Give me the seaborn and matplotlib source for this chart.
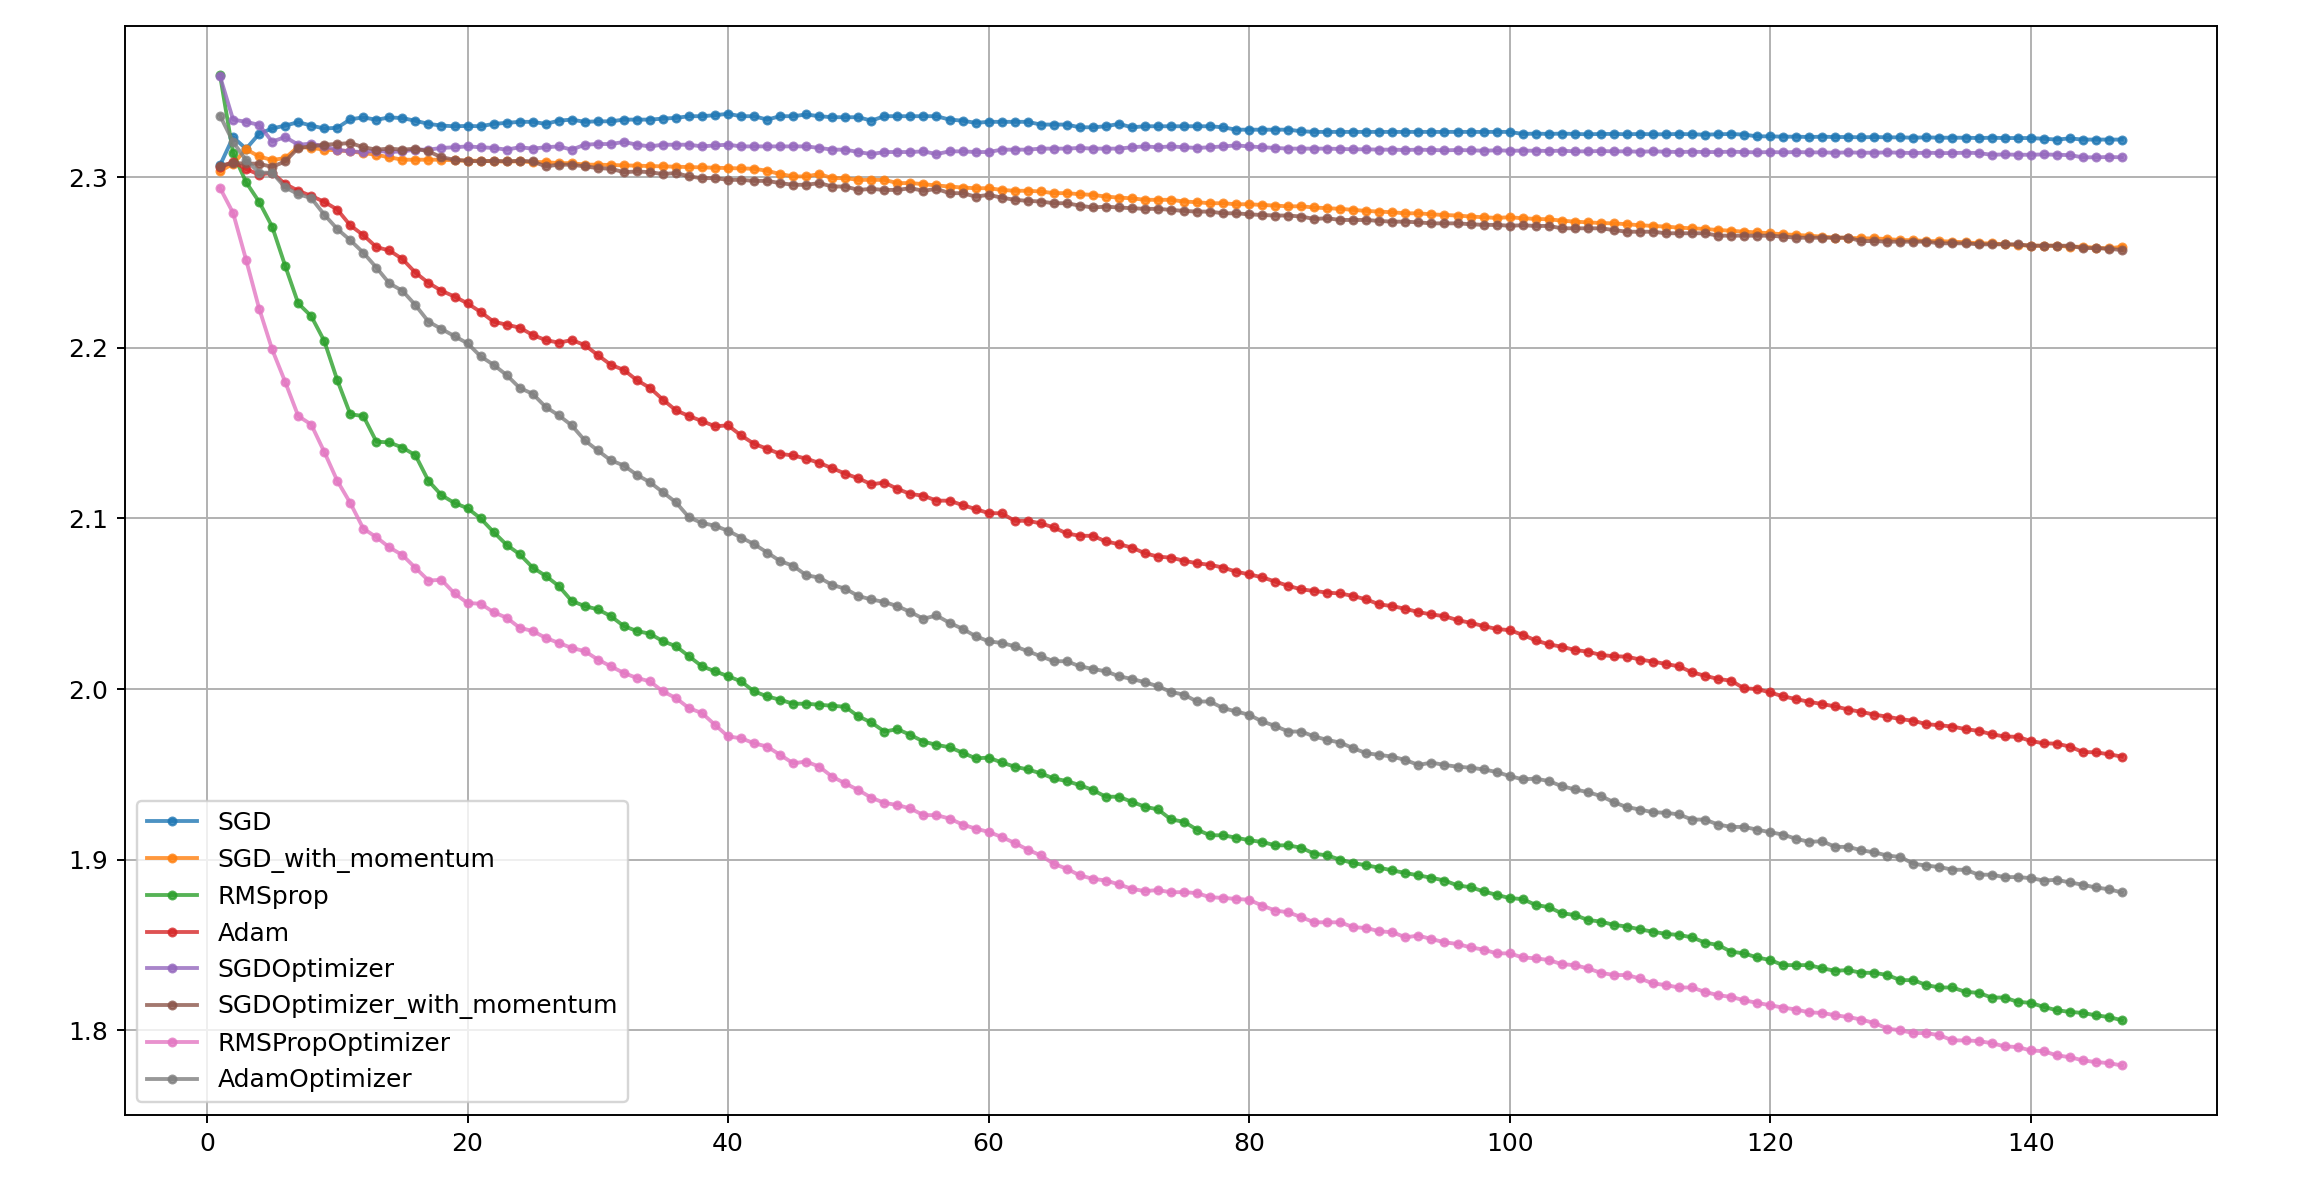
import matplotlib
matplotlib.use("Agg")
import matplotlib.pyplot as plt
import seaborn as sns
import pandas as pd

epochs = list(range(1, 148))

sgd = [2.3070, 2.3234, 2.3166, 2.3254, 2.3285, 2.3302, 2.3322, 2.3302, 2.3285, 2.3289,
       2.3339, 2.3350, 2.3336, 2.3350, 2.3346, 2.3330, 2.3312, 2.3302, 2.3298, 2.3300,
       2.3298, 2.3312, 2.3318, 2.3324, 2.3324, 2.3312, 2.3331, 2.3337, 2.3324, 2.3327,
       2.3327, 2.3337, 2.3337, 2.3337, 2.3343, 2.3347, 2.3357, 2.3357, 2.3363, 2.3371,
       2.3357, 2.3357, 2.3337, 2.3357, 2.3357, 2.3367, 2.3357, 2.3351, 2.3351, 2.3351,
       2.3331, 2.3357, 2.3357, 2.3357, 2.3357, 2.3357, 2.3337, 2.3331, 2.3318, 2.3324,
       2.3324, 2.3324, 2.3324, 2.3308, 2.3308, 2.3308, 2.3292, 2.3292, 2.3298, 2.3312,
       2.3292, 2.3298, 2.3298, 2.3298, 2.3298, 2.3298, 2.3298, 2.3292, 2.3278, 2.3278,
       2.3278, 2.3278, 2.3278, 2.3269, 2.3265, 2.3265, 2.3265, 2.3265, 2.3265, 2.3265,
       2.3265, 2.3265, 2.3265, 2.3265, 2.3265, 2.3265, 2.3265, 2.3265, 2.3265, 2.3265,
       2.3253, 2.3255, 2.3253, 2.3255, 2.3253, 2.3251, 2.3253, 2.3253, 2.3251, 2.3253,
       2.3251, 2.3251, 2.3253, 2.3251, 2.3249, 2.3251, 2.3253, 2.3249, 2.3239, 2.3239,
       2.3237, 2.3237, 2.3235, 2.3237, 2.3235, 2.3235, 2.3233, 2.3235, 2.3233, 2.3233,
       2.3231, 2.3233, 2.3231, 2.3231, 2.3231, 2.3229, 2.3231, 2.3229, 2.3229, 2.3229,
       2.3225, 2.3220, 2.3227, 2.3220, 2.3220, 2.3220, 2.3220]

sgd_momentum = [2.3035, 2.3078, 2.3163, 2.3121, 2.3100, 2.3112, 2.3178, 2.3171, 2.3161, 2.3157,
                2.3151, 2.3141, 2.3131, 2.3116, 2.3102, 2.3102, 2.3102, 2.3102, 2.3098, 2.3096,
                2.3096, 2.3092, 2.3092, 2.3092, 2.3088, 2.3088, 2.3082, 2.3082, 2.3073, 2.3073,
                2.3071, 2.3069, 2.3067, 2.3065, 2.3063, 2.3061, 2.3059, 2.3057, 2.3055, 2.3053,
                2.3051, 2.3049, 2.3037, 2.3018, 2.3004, 2.3004, 2.3018, 2.2994, 2.2994, 2.2984,
                2.2984, 2.2984, 2.2965, 2.2965, 2.2959, 2.2951, 2.2945, 2.2939, 2.2935, 2.2935,
                2.2925, 2.2920, 2.2920, 2.2916, 2.2906, 2.2906, 2.2900, 2.2896, 2.2886, 2.2880,
                2.2876, 2.2867, 2.2867, 2.2867, 2.2857, 2.2853, 2.2847, 2.2847, 2.2841, 2.2841,
                2.2837, 2.2833, 2.2829, 2.2829, 2.2822, 2.2818, 2.2814, 2.2808, 2.2802, 2.2798,
                2.2794, 2.2788, 2.2788, 2.2782, 2.2778, 2.2775, 2.2769, 2.2765, 2.2761, 2.2765,
                2.2759, 2.2755, 2.2753, 2.2745, 2.2739, 2.2735, 2.2731, 2.2729, 2.2724, 2.2718,
                2.2714, 2.2710, 2.2704, 2.2700, 2.2696, 2.2690, 2.2686, 2.2680, 2.2676, 2.2671,
                2.2665, 2.2661, 2.2657, 2.2651, 2.2645, 2.2645, 2.2641, 2.2641, 2.2637, 2.2631,
                2.2631, 2.2625, 2.2625, 2.2622, 2.2618, 2.2612, 2.2612, 2.2606, 2.2602, 2.2598,
                2.2598, 2.2598, 2.2592, 2.2592, 2.2586, 2.2582, 2.2592]

rmsprop = [2.3596, 2.3140, 2.2970, 2.2855, 2.2710, 2.2480, 2.2260, 2.2185, 2.2040, 2.1810,
           2.1610, 2.1600, 2.1450, 2.1445, 2.1415, 2.1370, 2.1220, 2.1136, 2.1090, 2.1060,
           2.1000, 2.0920, 2.0845, 2.0790, 2.0712, 2.0663, 2.0604, 2.0516, 2.0486, 2.0467,
           2.0427, 2.0369, 2.0340, 2.0324, 2.0280, 2.0251, 2.0192, 2.0133, 2.0104, 2.0075,
           2.0045, 1.9986, 1.9957, 1.9937, 1.9914, 1.9914, 1.9908, 1.9902, 1.9896, 1.9840,
           1.9804, 1.9751, 1.9765, 1.9731, 1.9692, 1.9673, 1.9659, 1.9627, 1.9594, 1.9598,
           1.9570, 1.9545, 1.9529, 1.9506, 1.9476, 1.9461, 1.9437, 1.9408, 1.9369, 1.9369,
           1.9339, 1.9310, 1.9295, 1.9236, 1.9222, 1.9176, 1.9143, 1.9143, 1.9129, 1.9114,
           1.9104, 1.9084, 1.9084, 1.9070, 1.9035, 1.9025, 1.9000, 1.8980, 1.8967, 1.8953,
           1.8937, 1.8922, 1.8908, 1.8894, 1.8878, 1.8849, 1.8839, 1.8814, 1.8794, 1.8775,
           1.8769, 1.8735, 1.8722, 1.8686, 1.8676, 1.8647, 1.8637, 1.8618, 1.8608, 1.8592,
           1.8578, 1.8565, 1.8559, 1.8545, 1.8514, 1.8500, 1.8461, 1.8451, 1.8427, 1.8412,
           1.8382, 1.8382, 1.8382, 1.8363, 1.8349, 1.8353, 1.8337, 1.8337, 1.8324, 1.8294,
           1.8294, 1.8265, 1.8251, 1.8251, 1.8225, 1.8220, 1.8192, 1.8192, 1.8167, 1.8161,
           1.8137, 1.8118, 1.8108, 1.8102, 1.8088, 1.8078, 1.8059]

adam = [2.3057, 2.3090, 2.3047, 2.3015, 2.3025, 2.2960, 2.2920, 2.2890, 2.2855, 2.2810,
        2.2717, 2.2660, 2.2590, 2.2570, 2.2520, 2.2440, 2.2380, 2.2334, 2.2300, 2.2260,
        2.2210, 2.2153, 2.2135, 2.2118, 2.2075, 2.2045, 2.2030, 2.2045, 2.2016, 2.1957,
        2.1900, 2.1870, 2.1810, 2.1765, 2.1696, 2.1633, 2.1600, 2.1570, 2.1540, 2.1545,
        2.1486, 2.1437, 2.1408, 2.1378, 2.1369, 2.1350, 2.1325, 2.1294, 2.1262, 2.1235,
        2.1200, 2.1210, 2.1173, 2.1143, 2.1133, 2.1104, 2.1104, 2.1078, 2.1055, 2.1031,
        2.1030, 2.0986, 2.0986, 2.0971, 2.0947, 2.0912, 2.0898, 2.0898, 2.0865, 2.0849,
        2.0829, 2.0796, 2.0776, 2.0770, 2.0752, 2.0737, 2.0728, 2.0712, 2.0688, 2.0672,
        2.0655, 2.0630, 2.0605, 2.0584, 2.0575, 2.0565, 2.0560, 2.0545, 2.0525, 2.0496,
        2.0486, 2.0470, 2.0451, 2.0437, 2.0427, 2.0404, 2.0388, 2.0369, 2.0352, 2.0345,
        2.0318, 2.0285, 2.0262, 2.0248, 2.0229, 2.0219, 2.0200, 2.0192, 2.0190, 2.0173,
        2.0161, 2.0147, 2.0133, 2.0098, 2.0078, 2.0059, 2.0049, 2.0004, 2.0000, 1.9980,
        1.9957, 1.9941, 1.9925, 1.9912, 1.9898, 1.9880, 1.9866, 1.9850, 1.9838, 1.9824,
        1.9814, 1.9794, 1.9788, 1.9780, 1.9765, 1.9755, 1.9735, 1.9722, 1.9720, 1.9696,
        1.9682, 1.9680, 1.9663, 1.9631, 1.9629, 1.9618, 1.9604]

sgd_optimizer = [2.3590, 2.3337, 2.3324, 2.3306, 2.3208, 2.3235, 2.3190, 2.3196, 2.3180, 2.3160,
                 2.3151, 2.3147, 2.3155, 2.3147, 2.3151, 2.3161, 2.3161, 2.3171, 2.3175, 2.3180,
                 2.3175, 2.3171, 2.3161, 2.3175, 2.3167, 2.3175, 2.3180, 2.3161, 2.3190, 2.3194,
                 2.3194, 2.3206, 2.3190, 2.3180, 2.3190, 2.3190, 2.3190, 2.3180, 2.3186, 2.3190,
                 2.3180, 2.3180, 2.3180, 2.3180, 2.3180, 2.3180, 2.3171, 2.3161, 2.3161, 2.3147,
                 2.3135, 2.3147, 2.3147, 2.3147, 2.3151, 2.3135, 2.3151, 2.3151, 2.3147, 2.3147,
                 2.3161, 2.3161, 2.3161, 2.3167, 2.3167, 2.3167, 2.3171, 2.3167, 2.3167, 2.3167,
                 2.3175, 2.3180, 2.3175, 2.3180, 2.3175, 2.3171, 2.3175, 2.3180, 2.3186, 2.3180,
                 2.3175, 2.3171, 2.3167, 2.3167, 2.3167, 2.3167, 2.3165, 2.3163, 2.3163, 2.3161,
                 2.3161, 2.3159, 2.3161, 2.3159, 2.3157, 2.3159, 2.3157, 2.3155, 2.3157, 2.3155,
                 2.3155, 2.3155, 2.3153, 2.3155, 2.3151, 2.3151, 2.3153, 2.3151, 2.3151, 2.3149,
                 2.3151, 2.3149, 2.3147, 2.3149, 2.3147, 2.3147, 2.3149, 2.3147, 2.3145, 2.3147,
                 2.3145, 2.3147, 2.3145, 2.3145, 2.3143, 2.3145, 2.3143, 2.3143, 2.3145, 2.3143,
                 2.3141, 2.3143, 2.3141, 2.3141, 2.3143, 2.3141, 2.3131, 2.3133, 2.3131, 2.3131,
                 2.3133, 2.3131, 2.3129, 2.3116, 2.3116, 2.3118, 2.3116]

sgd_optimizer_momentum = [2.3068, 2.3082, 2.3080, 2.3078, 2.3060, 2.3092, 2.3171, 2.3180, 2.3190, 2.3194,
                          2.3200, 2.3175, 2.3161, 2.3167, 2.3161, 2.3167, 2.3151, 2.3116, 2.3102, 2.3096,
                          2.3092, 2.3096, 2.3092, 2.3096, 2.3092, 2.3063, 2.3073, 2.3073, 2.3063, 2.3053,
                          2.3049, 2.3029, 2.3033, 2.3029, 2.3018, 2.3024, 2.3004, 2.2994, 2.2994, 2.2984,
                          2.2984, 2.2978, 2.2978, 2.2965, 2.2955, 2.2955, 2.2965, 2.2945, 2.2945, 2.2925,
                          2.2931, 2.2925, 2.2925, 2.2935, 2.2920, 2.2931, 2.2906, 2.2906, 2.2886, 2.2896,
                          2.2880, 2.2867, 2.2861, 2.2857, 2.2847, 2.2847, 2.2833, 2.2822, 2.2827, 2.2822,
                          2.2818, 2.2814, 2.2814, 2.2808, 2.2802, 2.2798, 2.2798, 2.2788, 2.2788, 2.2782,
                          2.2778, 2.2775, 2.2775, 2.2769, 2.2755, 2.2759, 2.2749, 2.2749, 2.2749, 2.2743,
                          2.2739, 2.2739, 2.2735, 2.2729, 2.2729, 2.2729, 2.2724, 2.2720, 2.2720, 2.2715,
                          2.2718, 2.2714, 2.2714, 2.2700, 2.2700, 2.2700, 2.2700, 2.2690, 2.2680, 2.2680,
                          2.2680, 2.2671, 2.2671, 2.2671, 2.2671, 2.2657, 2.2657, 2.2657, 2.2657, 2.2657,
                          2.2651, 2.2645, 2.2645, 2.2645, 2.2645, 2.2645, 2.2625, 2.2625, 2.2622, 2.2622,
                          2.2622, 2.2622, 2.2612, 2.2612, 2.2612, 2.2606, 2.2606, 2.2606, 2.2606, 2.2598,
                          2.2598, 2.2598, 2.2598, 2.2584, 2.2584, 2.2580, 2.2573]

rmsprop_optimizer = [2.2936, 2.2790, 2.2515, 2.2230, 2.1990, 2.1800, 2.1600, 2.1550, 2.1390, 2.1220,
                     2.1090, 2.0940, 2.0890, 2.0830, 2.0785, 2.0710, 2.0636, 2.0640, 2.0560, 2.0504,
                     2.0500, 2.0450, 2.0418, 2.0359, 2.0340, 2.0300, 2.0270, 2.0241, 2.0222, 2.0173,
                     2.0133, 2.0094, 2.0065, 2.0045, 1.9986, 1.9947, 1.9888, 1.9859, 1.9790, 1.9722,
                     1.9712, 1.9682, 1.9663, 1.9614, 1.9565, 1.9575, 1.9545, 1.9486, 1.9447, 1.9408,
                     1.9363, 1.9333, 1.9320, 1.9300, 1.9261, 1.9261, 1.9241, 1.9206, 1.9182, 1.9163,
                     1.9133, 1.9098, 1.9059, 1.9025, 1.8976, 1.8947, 1.8908, 1.8888, 1.8878, 1.8855,
                     1.8829, 1.8816, 1.8822, 1.8809, 1.8810, 1.8804, 1.8780, 1.8776, 1.8770, 1.8765,
                     1.8731, 1.8702, 1.8692, 1.8663, 1.8633, 1.8633, 1.8633, 1.8604, 1.8600, 1.8580,
                     1.8575, 1.8545, 1.8555, 1.8535, 1.8516, 1.8506, 1.8486, 1.8473, 1.8451, 1.8451,
                     1.8427, 1.8422, 1.8412, 1.8388, 1.8382, 1.8363, 1.8337, 1.8324, 1.8324, 1.8304,
                     1.8275, 1.8265, 1.8251, 1.8251, 1.8225, 1.8206, 1.8196, 1.8176, 1.8161, 1.8147,
                     1.8133, 1.8122, 1.8105, 1.8102, 1.8088, 1.8078, 1.8063, 1.8043, 1.8010, 1.8000,
                     1.7984, 1.7984, 1.7971, 1.7941, 1.7941, 1.7937, 1.7925, 1.7906, 1.7902, 1.7882,
                     1.7878, 1.7853, 1.7843, 1.7824, 1.7814, 1.7808, 1.7794]

adam_optimizer = [2.3360, 2.3206, 2.3100, 2.3026, 2.3026, 2.2940, 2.2900, 2.2877, 2.2780, 2.2696,
                  2.2630, 2.2557, 2.2470, 2.2377, 2.2334, 2.2250, 2.2153, 2.2110, 2.2068, 2.2026,
                  2.1950, 2.1900, 2.1840, 2.1765, 2.1730, 2.1653, 2.1604, 2.1545, 2.1457, 2.1398,
                  2.1340, 2.1310, 2.1255, 2.1212, 2.1153, 2.1094, 2.1006, 2.0973, 2.0957, 2.0927,
                  2.0888, 2.0849, 2.0800, 2.0750, 2.0722, 2.0667, 2.0653, 2.0610, 2.0588, 2.0545,
                  2.0525, 2.0510, 2.0486, 2.0451, 2.0412, 2.0431, 2.0388, 2.0353, 2.0310, 2.0280,
                  2.0270, 2.0251, 2.0222, 2.0192, 2.0163, 2.0163, 2.0133, 2.0118, 2.0104, 2.0075,
                  2.0059, 2.0040, 2.0016, 1.9983, 1.9967, 1.9927, 1.9927, 1.9888, 1.9869, 1.9849,
                  1.9810, 1.9784, 1.9751, 1.9751, 1.9722, 1.9702, 1.9686, 1.9653, 1.9624, 1.9614,
                  1.9604, 1.9584, 1.9555, 1.9569, 1.9555, 1.9545, 1.9539, 1.9529, 1.9514, 1.9490,
                  1.9471, 1.9475, 1.9461, 1.9431, 1.9412, 1.9396, 1.9373, 1.9337, 1.9308, 1.9294,
                  1.9278, 1.9275, 1.9265, 1.9235, 1.9235, 1.9206, 1.9192, 1.9192, 1.9176, 1.9161,
                  1.9147, 1.9122, 1.9105, 1.9108, 1.9075, 1.9075, 1.9055, 1.9043, 1.9024, 1.9016,
                  1.8976, 1.8965, 1.8957, 1.8941, 1.8941, 1.8912, 1.8912, 1.8898, 1.8898, 1.8892,
                  1.8878, 1.8882, 1.8867, 1.8853, 1.8837, 1.8827, 1.8808]

names = ["SGD", "SGD_with_momentum", "RMSprop", "Adam", "SGDOptimizer",
         "SGDOptimizer_with_momentum", "RMSPropOptimizer", "AdamOptimizer"]
series = [sgd, sgd_momentum, rmsprop, adam, sgd_optimizer,
          sgd_optimizer_momentum, rmsprop_optimizer, adam_optimizer]

plt.rcParams["font.size"] = 10.4

dpi = 173
fig = plt.figure(figsize=(2310 / dpi, 1178 / dpi), dpi=dpi)
ax = fig.add_subplot(111)
fig.subplots_adjust(left=0.0541, right=0.9597, bottom=0.0535, top=0.978)

colors = sns.color_palette("tab10", 8)
for name, vals, c in zip(names, series, colors):
    df = pd.DataFrame({"epoch": epochs, "loss": vals})
    sns.lineplot(data=df, x="epoch", y="loss", ax=ax, label=name, color=c,
                 marker=".", markersize=6.3, markeredgecolor=c, markerfacecolor=c,
                 markeredgewidth=1.0, linewidth=1.6, alpha=0.8)

ax.set_xlabel("")
ax.set_ylabel("")
ax.grid(True)
ax.legend(loc="lower left", fontsize=10.4)
fig.savefig("out.png", dpi=dpi)
